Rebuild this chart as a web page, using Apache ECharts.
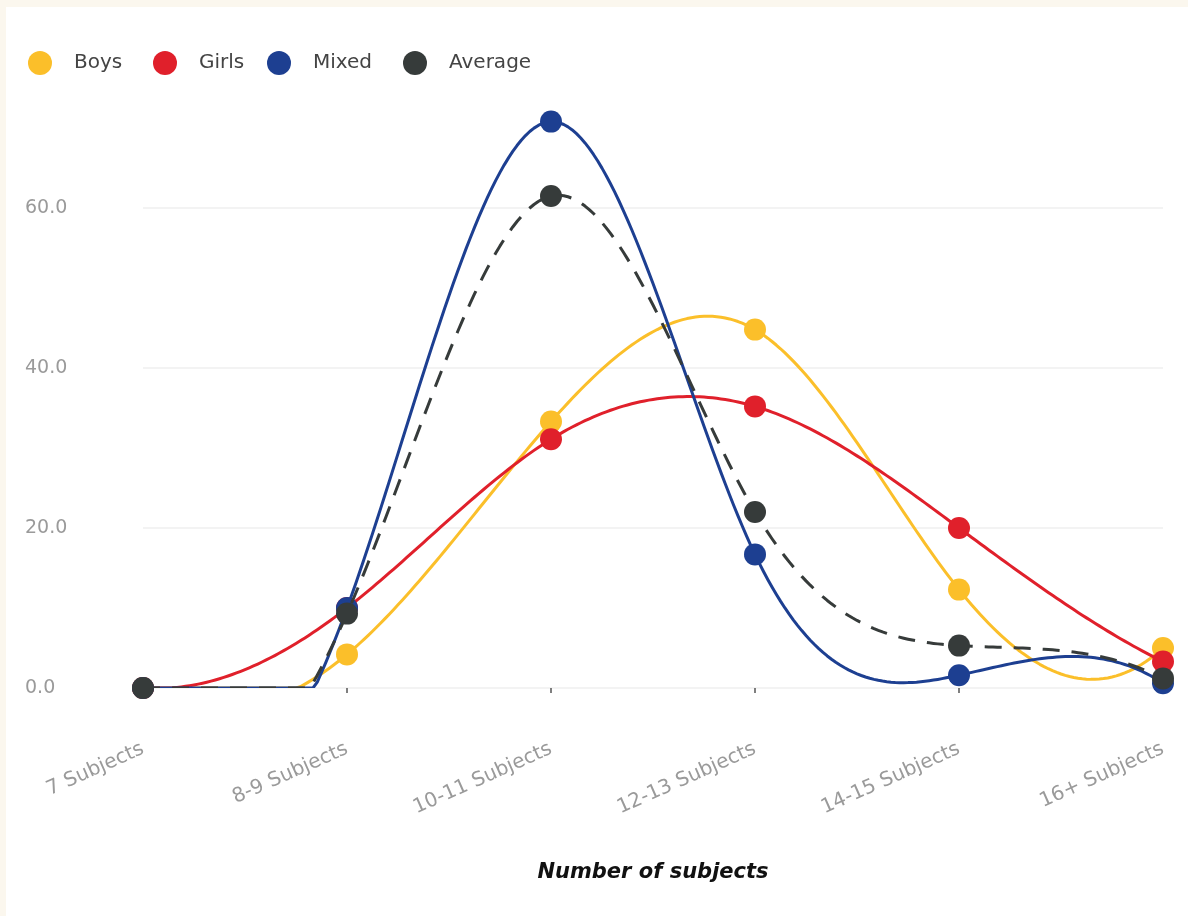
<!DOCTYPE html>
<html>
<head>
<meta charset="utf-8">
<script src="https://cdn.jsdelivr.net/npm/echarts@6/dist/echarts.min.js"></script>
<style>
  html, body { margin: 0; padding: 0; background: #fbf7ee; }
  #chart { position: absolute; left: 6px; top: 7px; width: 1182px; height: 909px; background: #ffffff; }
</style>
</head>
<body>
<div id="chart"></div>
<script>
// Share of schools by number of subjects offered
const categories = ['7 Subjects', '8-9 Subjects', '10-11 Subjects', '12-13 Subjects', '14-15 Subjects', '16+ Subjects'];
const boys    = [0, 4.2, 33.3, 44.8, 12.3, 5.0];
const girls   = [0, 10.0, 31.1, 35.2, 20.0, 3.3];
const mixed   = [0, 10.0, 70.8, 16.7, 1.6, 0.6];
const average = [0, 9.3, 61.5, 22.0, 5.3, 1.2];
const yTicks  = [0, 20, 40, 60];
const yMax = 80;

const seriesNames = ['Boys', 'Girls', 'Mixed', 'Average'];
const seriesColors = ['#fbbf2a', '#e0202b', '#1d3f91', '#363b3a'];
const seriesData = [boys, girls, mixed, average];

const font = '"DejaVu Sans", "Noto Sans", sans-serif';

// Second derivatives of a cubic spline through evenly spaced values.
// End rows blend the natural and not-a-knot conditions (endBlend 0..1).
function splineMoments(ys, endBlend) {
  const n = ys.length;
  const A = [];
  const b = [];
  for (let r = 0; r < n; r++) { A.push(new Array(n).fill(0)); b.push(0); }
  A[0][0] = 1; A[0][1] = -2 * endBlend; A[0][2] = endBlend;
  A[n - 1][n - 1] = 1; A[n - 1][n - 2] = -2 * endBlend; A[n - 1][n - 3] = endBlend;
  for (let i = 1; i < n - 1; i++) {
    A[i][i - 1] = 1; A[i][i] = 4; A[i][i + 1] = 1;
    b[i] = 6 * (ys[i + 1] - 2 * ys[i] + ys[i - 1]);
  }
  // Gaussian elimination with partial pivoting
  for (let c = 0; c < n; c++) {
    let p = c;
    for (let r = c + 1; r < n; r++) if (Math.abs(A[r][c]) > Math.abs(A[p][c])) p = r;
    [A[c], A[p]] = [A[p], A[c]];
    [b[c], b[p]] = [b[p], b[c]];
    for (let r = c + 1; r < n; r++) {
      const f = A[r][c] / A[c][c];
      for (let k = c; k < n; k++) A[r][k] -= f * A[c][k];
      b[r] -= f * b[c];
    }
  }
  const M = new Array(n).fill(0);
  for (let r = n - 1; r >= 0; r--) {
    let s = b[r];
    for (let k = r + 1; k < n; k++) s -= A[r][k] * M[k];
    M[r] = s / A[r][r];
  }
  return M;
}

// Curve renderer: one smooth path per series, held inside the plotted value range
function curveRenderer(values, color, dashed) {
  const M = splineMoments(values, 0.5);
  return function (params, api) {
    if (params.dataIndex !== 0) return null;
    const pts = [];
    const steps = 48;
    for (let i = 0; i < values.length - 1; i++) {
      const x0 = api.coord([i, 0])[0];
      const x1 = api.coord([i + 1, 0])[0];
      for (let s = (i === 0 ? 0 : 1); s <= steps; s++) {
        const t = s / steps;
        const u = 1 - t;
        let v = u * values[i] + t * values[i + 1]
          + (u * u * u - u) * M[i] / 6 + (t * t * t - t) * M[i + 1] / 6;
        v = Math.max(yTicks[0], Math.min(yMax, v));
        pts.push([x0 + (x1 - x0) * t, api.coord([i, v])[1]]);
      }
    }
    return {
      type: 'polyline',
      shape: { points: pts },
      style: { stroke: color, lineWidth: 3, fill: null, lineDash: dashed ? [17, 12] : null, lineJoin: 'round' },
      silent: true
    };
  };
}

// One legend block per series so each entry sits at its own position
const legendLefts = [17, 142, 256, 392];
const legends = seriesNames.map((n, i) => ({
  left: legendLefts[i],
  top: 39,
  icon: 'circle',
  itemWidth: 24,
  itemHeight: 24,
  data: [{ name: n, itemStyle: { color: seriesColors[i] } }],
  textStyle: { fontSize: 20, color: '#444', fontFamily: font, padding: [0, 0, 0, 17] }
}));

const series = [];
seriesNames.forEach((name, i) => {
  series.push({
    name,
    type: 'custom',
    renderItem: curveRenderer(seriesData[i], seriesColors[i], name === 'Average'),
    data: seriesData[i].map((v, k) => [k, v]),
    encode: { x: 0, y: 1 },
    clip: true,
    itemStyle: { color: seriesColors[i] },
    z: 2 + 2 * i
  });
  series.push({
    name,
    type: 'line',
    data: seriesData[i],
    symbol: 'circle',
    symbolSize: 22,
    itemStyle: { color: seriesColors[i] },
    lineStyle: { width: 0, opacity: 0 },
    z: 3 + 2 * i
  });
});

const chart = echarts.init(document.getElementById('chart'));
chart.setOption({
  animation: false,
  textStyle: { fontFamily: font },
  legend: legends,
  grid: { left: 137, right: 25, top: 41, bottom: 228 },
  xAxis: {
    type: 'category',
    boundaryGap: false,
    data: categories,
    axisLine: { show: false },
    axisTick: { show: true, length: 5, lineStyle: { color: '#555', width: 1.5 } },
    axisLabel: { rotate: 24, margin: 60, fontSize: 20, color: '#9a9a9a', fontFamily: font },
    name: 'Number of subjects',
    nameLocation: 'middle',
    nameGap: 174,
    nameTextStyle: { fontSize: 21, fontWeight: 'bold', fontStyle: 'italic', color: '#111', fontFamily: font }
  },
  yAxis: {
    type: 'value',
    min: yTicks[0],
    max: yMax,
    interval: yTicks[1] - yTicks[0],
    axisLine: { show: false },
    axisTick: { show: false },
    splitLine: { show: true, showMaxLine: false, lineStyle: { color: '#efefef', width: 1.5 } },
    axisLabel: {
      align: 'left',
      margin: 118,
      fontSize: 19,
      color: '#9a9a9a',
      fontFamily: font,
      showMaxLabel: false,
      formatter: v => v.toFixed(1)
    }
  },
  series
});
</script>
</body>
</html>
